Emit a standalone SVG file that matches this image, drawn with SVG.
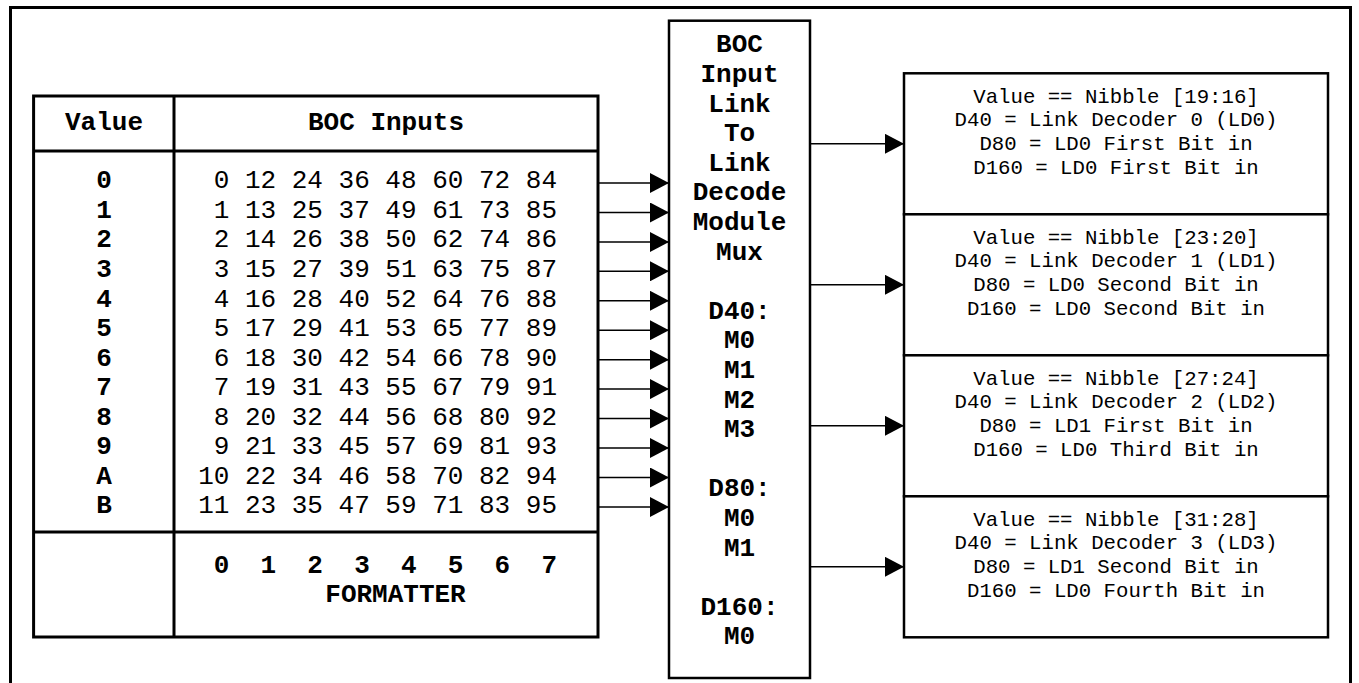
<svg xmlns="http://www.w3.org/2000/svg" width="1359" height="683" viewBox="0 0 1359 683">
<style>
.ln{fill:none;stroke:#000;stroke-width:3}
.bx{fill:#fff;stroke:#000;stroke-width:2.5}
.ar{fill:none;stroke:#000;stroke-width:1.5}
.b{font-family:"Liberation Mono","Courier New",monospace;font-size:26px;font-weight:bold;fill:#000}
.r{font-family:"Liberation Mono","Courier New",monospace;font-size:26px;fill:#000}
.s{font-family:"Liberation Mono","Courier New",monospace;font-size:20.7px;fill:#000;text-anchor:middle}
.m{text-anchor:middle}
.e{text-anchor:end}
</style>
<defs>
<marker id="ah" markerUnits="userSpaceOnUse" viewBox="0 0 19 20" refX="19" refY="10" markerWidth="19" markerHeight="20" orient="auto">
<path d="M0,0 L19,10 L0,20 Z" fill="#000"/>
</marker>
</defs>
<rect width="1359" height="683" fill="#fff"/>
<path id="frame" class="ln" d="M10.5,700 V7.5 H1350.5 V700"/>

<g id="table">
<rect class="ln" x="33.6" y="96" width="564.4" height="541"/>
<line class="ln" x1="174" y1="96" x2="174" y2="637"/>
<line class="ln" x1="33.6" y1="151" x2="598" y2="151"/>
<line class="ln" x1="33.6" y1="532" x2="598" y2="532"/>
<text class="b m" x="104" y="129.5">Value</text>
<text class="b m" x="386" y="129.5">BOC Inputs</text>
<g class="b m">
<text x="104" y="188.3">0</text>
<text x="104" y="217.9">1</text>
<text x="104" y="247.4">2</text>
<text x="104" y="277">3</text>
<text x="104" y="306.5">4</text>
<text x="104" y="336">5</text>
<text x="104" y="365.6">6</text>
<text x="104" y="395.2">7</text>
<text x="104" y="424.7">8</text>
<text x="104" y="454.3">9</text>
<text x="104" y="483.8">A</text>
<text x="104" y="513.3">B</text>
</g>
<g class="r e">
<text x="557" y="188.3">0 12 24 36 48 60 72 84</text>
<text x="557" y="217.9">1 13 25 37 49 61 73 85</text>
<text x="557" y="247.4">2 14 26 38 50 62 74 86</text>
<text x="557" y="277">3 15 27 39 51 63 75 87</text>
<text x="557" y="306.5">4 16 28 40 52 64 76 88</text>
<text x="557" y="336">5 17 29 41 53 65 77 89</text>
<text x="557" y="365.6">6 18 30 42 54 66 78 90</text>
<text x="557" y="395.2">7 19 31 43 55 67 79 91</text>
<text x="557" y="424.7">8 20 32 44 56 68 80 92</text>
<text x="557" y="454.3">9 21 33 45 57 69 81 93</text>
<text x="557" y="483.8">10 22 34 46 58 70 82 94</text>
<text x="557" y="513.3">11 23 35 47 59 71 83 95</text>
</g>
<text class="b e" x="557" y="572.7" xml:space="preserve">0  1  2  3  4  5  6  7</text>
<text class="b m" x="395.5" y="602">FORMATTER</text>
</g>

<g id="mux">
<rect class="bx" x="669" y="20.7" width="141" height="657.3"/>
<g class="b m">
<text x="739.5" y="52.3">BOC</text>
<text x="739.5" y="81.9">Input</text>
<text x="739.5" y="111.5">Link</text>
<text x="739.5" y="141.1">To</text>
<text x="739.5" y="170.7">Link</text>
<text x="739.5" y="200.3">Decode</text>
<text x="739.5" y="229.9">Module</text>
<text x="739.5" y="259.5">Mux</text>
<text x="739.5" y="318.7">D40:</text>
<text x="739.5" y="348.3">M0</text>
<text x="739.5" y="377.9">M1</text>
<text x="739.5" y="407.5">M2</text>
<text x="739.5" y="437.1">M3</text>
<text x="739.5" y="496.3">D80:</text>
<text x="739.5" y="525.9">M0</text>
<text x="739.5" y="555.5">M1</text>
<text x="739.5" y="614.7">D160:</text>
<text x="739.5" y="644.3">M0</text>
</g>
</g>

<g id="ld0">
<rect class="bx" x="904" y="73.3" width="424" height="141"/>
<text class="s" x="1116" y="102.7">Value == Nibble [19:16]</text>
<text class="s" x="1116" y="126.3">D40 = Link Decoder 0 (LD0)</text>
<text class="s" x="1116" y="149.9">D80 = LD0 First Bit in</text>
<text class="s" x="1116" y="173.5">D160 = LD0 First Bit in</text>
</g>
<g id="ld1">
<rect class="bx" x="904" y="214.3" width="424" height="141"/>
<text class="s" x="1116" y="243.7">Value == Nibble [23:20]</text>
<text class="s" x="1116" y="267.3">D40 = Link Decoder 1 (LD1)</text>
<text class="s" x="1116" y="290.9">D80 = LD0 Second Bit in</text>
<text class="s" x="1116" y="314.5">D160 = LD0 Second Bit in</text>
</g>
<g id="ld2">
<rect class="bx" x="904" y="355.3" width="424" height="141"/>
<text class="s" x="1116" y="384.7">Value == Nibble [27:24]</text>
<text class="s" x="1116" y="408.3">D40 = Link Decoder 2 (LD2)</text>
<text class="s" x="1116" y="431.9">D80 = LD1 First Bit in</text>
<text class="s" x="1116" y="455.5">D160 = LD0 Third Bit in</text>
</g>
<g id="ld3">
<rect class="bx" x="904" y="496.3" width="424" height="141"/>
<text class="s" x="1116" y="525.7">Value == Nibble [31:28]</text>
<text class="s" x="1116" y="549.3">D40 = Link Decoder 3 (LD3)</text>
<text class="s" x="1116" y="572.9">D80 = LD1 Second Bit in</text>
<text class="s" x="1116" y="596.5">D160 = LD0 Fourth Bit in</text>
</g>

<g id="connectors" class="ar" marker-end="url(#ah)">
<line x1="599" y1="183" x2="669" y2="183" marker-end="url(#ah)"/>
<line x1="599" y1="212.5" x2="669" y2="212.5" marker-end="url(#ah)"/>
<line x1="599" y1="242" x2="669" y2="242" marker-end="url(#ah)"/>
<line x1="599" y1="271.3" x2="669" y2="271.3" marker-end="url(#ah)"/>
<line x1="599" y1="300.8" x2="669" y2="300.8" marker-end="url(#ah)"/>
<line x1="599" y1="330.2" x2="669" y2="330.2" marker-end="url(#ah)"/>
<line x1="599" y1="359.7" x2="669" y2="359.7" marker-end="url(#ah)"/>
<line x1="599" y1="389.1" x2="669" y2="389.1" marker-end="url(#ah)"/>
<line x1="599" y1="418.6" x2="669" y2="418.6" marker-end="url(#ah)"/>
<line x1="599" y1="448" x2="669" y2="448" marker-end="url(#ah)"/>
<line x1="599" y1="477.5" x2="669" y2="477.5" marker-end="url(#ah)"/>
<line x1="599" y1="507" x2="669" y2="507" marker-end="url(#ah)"/>
<line x1="810" y1="143.8" x2="904" y2="143.8" marker-end="url(#ah)"/>
<line x1="810" y1="284.8" x2="904" y2="284.8" marker-end="url(#ah)"/>
<line x1="810" y1="425.8" x2="904" y2="425.8" marker-end="url(#ah)"/>
<line x1="810" y1="566.8" x2="904" y2="566.8" marker-end="url(#ah)"/>
</g>
</svg>
